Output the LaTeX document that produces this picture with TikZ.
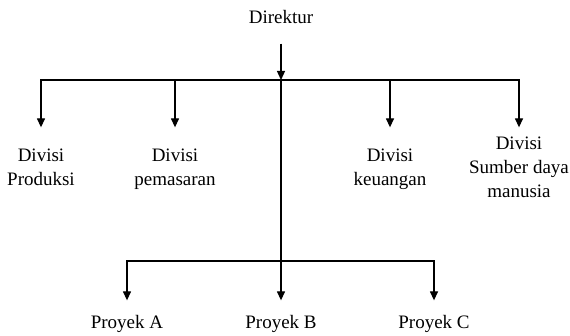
\documentclass[tikz,border=0pt]{standalone}
\usepackage{fontspec}
\setmainfont{Liberation Serif}
\usetikzlibrary{arrows.meta}

\begin{document}
\begin{tikzpicture}[x=1pt,y=1pt,->,>={Triangle[length=9pt,width=8pt]},
                    line width=1.3pt,font=\fontsize{19}{24}\selectfont]
  \tikzstyle{every node}=[align=center,inner sep=0pt]
  \tikzstyle{divisi}=[minimum height=78pt,text depth=0pt]
  \tikzstyle{proyek}=[minimum height=46pt]

  \useasboundingbox (0,0) rectangle (570,-336);

  \node (D)            at (281,-17)  [minimum height=52pt] {Direktur};
  \node[divisi] (P1)   at (41,-167)  {Divisi\\Produksi};
  \node[divisi] (P2)   at (175,-167) {Divisi\\pemasaran};
  \node[divisi] (P3)   at (390,-167) {Divisi\\keuangan};
  \node[divisi] (P4)   at (519,-167) {Divisi\\Sumber daya\\manusia};
  \node[proyek] (A)    at (127,-324) {Proyek A};
  \node[proyek] (B)    at (281,-324) {Proyek B};
  \node[proyek] (C)    at (434,-324) {Proyek C};

  \coordinate (T) at (281,-80);
  \coordinate (U) at (281,-261);

  \draw (D) -- (T);
  \draw (T) -| (P1);
  \draw (T) -| (P2);
  \draw (T) -| (P3);
  \draw (T) -| (P4);

  \draw (T) -- (B);
  \draw (U) -| (A);
  \draw (U) -| (C);

\end{tikzpicture}
\end{document}
